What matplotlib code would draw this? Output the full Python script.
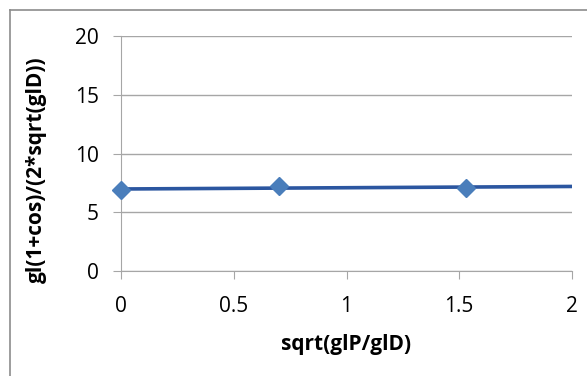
import matplotlib.pyplot as plt
import numpy as np

# values
x_vals = [0.0, 0.70, 1.53]
y_vals = [6.88, 7.24, 7.06]
x_ticks = [0, 0.5, 1, 1.5, 2]
x_tick_labels = ["0", "0.5", "1", "1.5", "2"]
y_ticks = [0, 5, 10, 15, 20]

plt.rcParams["font.family"] = ["Open Sans", "DejaVu Sans"]

W, H = 587, 376
fig = plt.figure(figsize=(W / 100, H / 100), dpi=100)
ax = fig.add_axes([121 / W, 1 - 271 / H, 451 / W, 235 / H])

# outer chart border (only left and top edges fall inside the image)
fig.add_artist(plt.Line2D([10 / W, 10 / W], [0, 1 - 10 / H],
                          transform=fig.transFigure, color="#8c8c8c", lw=1.2))
fig.add_artist(plt.Line2D([10 / W, 1], [1 - 10 / H, 1 - 10 / H],
                          transform=fig.transFigure, color="#8c8c8c", lw=1.2))

# linear trendline across the full x range
slope, intercept = np.polyfit(x_vals, y_vals, 1)
xt = np.array([x_ticks[0], x_ticks[-1]])
ax.plot(xt, slope * xt + intercept, color="#2B56A0", lw=2.6, zorder=3)
ax.plot(x_vals, y_vals, ls="none", marker="D", ms=9, color="#4A7EBB",
        zorder=4, clip_on=False)

ax.set_xlim(0, 2)
ax.set_ylim(0, 20)
ax.set_xticks(x_ticks)
ax.set_xticklabels(x_tick_labels)
ax.set_yticks(y_ticks)

ax.grid(axis="y", color="#a6a6a6", lw=1.0)
ax.set_axisbelow(True)
for side in ["top", "right"]:
    ax.spines[side].set_visible(False)
ax.spines["left"].set_color("#a6a6a6")
ax.spines["bottom"].set_color("#a6a6a6")
ax.tick_params(axis="x", direction="out", length=6, color="#a6a6a6",
               labelsize=15, pad=12)
ax.tick_params(axis="y", direction="out", length=6, color="#a6a6a6",
               labelsize=15, pad=10)

ax.set_xlabel("sqrt(glP/glD)", fontsize=15, fontweight="bold")
ax.xaxis.set_label_coords(0.5, -0.27)
ax.set_ylabel("gl(1+cos)/(2*sqrt(glD))", fontsize=15, fontweight="bold")
ax.yaxis.set_label_coords(-0.165, 0.43)

fig.savefig("out.png", dpi=100)
